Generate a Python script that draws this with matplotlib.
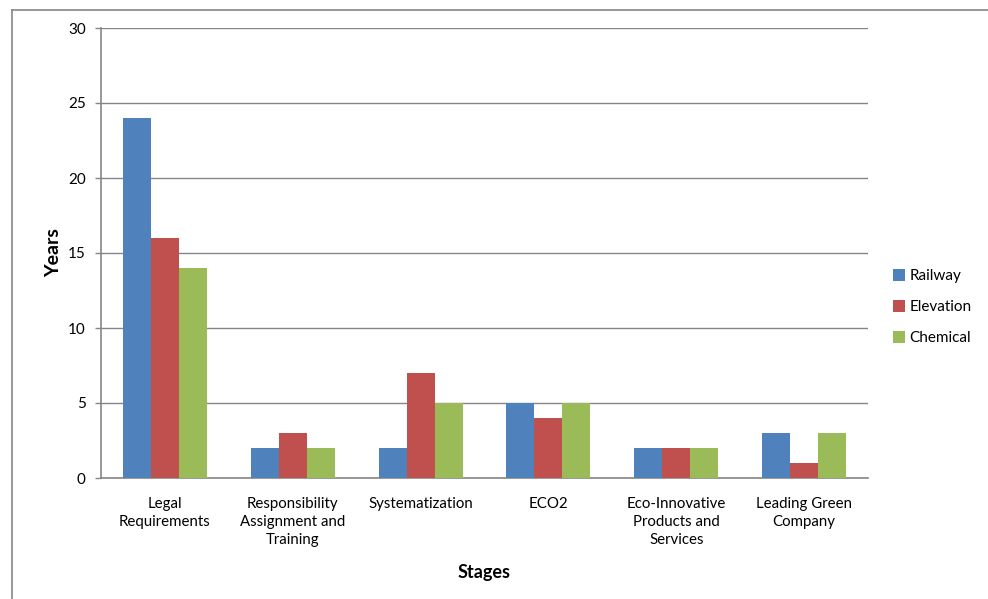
import matplotlib
matplotlib.use("Agg")
import matplotlib.pyplot as plt
import numpy as np
from matplotlib.lines import Line2D

categories = ["Legal\nRequirements", "Responsibility\nAssignment and\nTraining", "Systematization",
              "ECO2", "Eco-Innovative\nProducts and\nServices", "Leading Green\nCompany"]
series_names = ["Railway", "Elevation", "Chemical"]
railway = [24, 2, 2, 5, 2, 3]
elevation = [16, 3, 7, 4, 2, 1]
chemical = [14, 2, 5, 5, 2, 3]
colors = ["#4F81BD", "#C0504D", "#9BBB59"]
yticks = [0, 5, 10, 15, 20, 25, 30]

plt.rcParams['font.family'] = ['Lato', 'DejaVu Sans']

fig = plt.figure(figsize=(9.88, 5.99), dpi=100)
ax = fig.add_axes([101/988, 1-478/599, (868-101)/988, (478-28)/599])

x = np.arange(len(categories))
w = 0.219
for i, (vals, c, name) in enumerate(zip([railway, elevation, chemical], colors, series_names)):
    ax.bar(x + (i-1)*w, vals, w, color=c, label=name, zorder=3, edgecolor='none')

ax.set_xlim(-0.5, len(categories)-0.5)
ax.set_ylim(0, 30)
ax.set_yticks(yticks)
ax.set_yticklabels([str(t) for t in yticks], fontsize=11)
ax.yaxis.grid(True, color='#868686', linewidth=1, zorder=0)
ax.set_xticks(x)
ax.set_xticklabels(categories, fontsize=10.8, linespacing=1.35)
ax.tick_params(axis='x', length=0, pad=14)
ax.tick_params(axis='y', length=4, color='#868686', width=1, pad=7)
for s in ['top', 'right']:
    ax.spines[s].set_visible(False)
for s in ['left', 'bottom']:
    ax.spines[s].set_color('#868686')
    ax.spines[s].set_linewidth(1.2)

ax.set_ylabel("Years", fontsize=14, fontweight='bold', labelpad=4)
ax.set_xlabel("Stages", fontsize=13, fontweight='bold', labelpad=12)

leg = ax.legend(loc='center left', bbox_to_anchor=(1.015, 0.38), frameon=False, fontsize=11,
                handlelength=0.8, handleheight=0.8, handletextpad=0.25, labelspacing=1.1)

# outer border (left and top only visible)
fig.add_artist(Line2D([12/988, 12/988], [0, 1-10/599], color='#868686', linewidth=1.2))
fig.add_artist(Line2D([12/988, 1], [1-10/599, 1-10/599], color='#868686', linewidth=1.2))

fig.savefig("out.png", dpi=100)
